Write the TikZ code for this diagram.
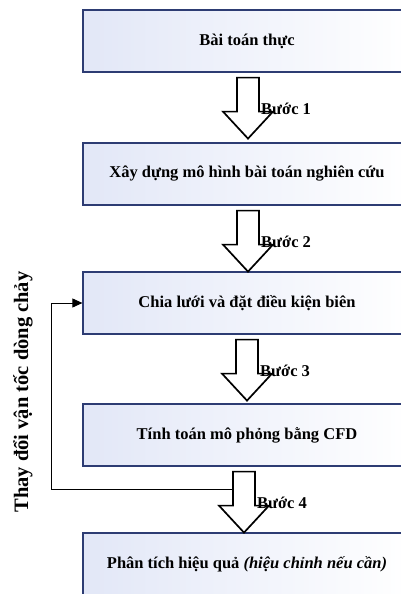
\documentclass[tikz,border=0pt]{standalone}
\usepackage{fontspec}
\setmainfont{Liberation Serif}
\usetikzlibrary{arrows.meta,calc}

\definecolor{boxblue}{RGB}{226,231,247}
\definecolor{boxline}{RGB}{45,60,115}

\tikzset{
  stage/.style={draw=boxline, line width=1.2pt, left color=boxblue, right color=white,
    minimum width=328pt, minimum height=62pt, inner sep=0pt,
    font=\bfseries\fontsize{16.5}{19}\selectfont},
  bigarrow/.style={draw=black, fill=white, line width=1.7pt, line join=miter},
  steplabel/.style={anchor=west, inner sep=0pt, font=\bfseries\fontsize{16.5}{19}\selectfont},
  loopline/.style={draw=black, line width=0.9pt, -{Triangle[length=10pt,width=9pt]}}
}

\begin{document}
\begin{tikzpicture}
  [
    x=1pt, y=-1pt
  ]
  \useasboundingbox (0,0) rectangle (401,594);
  % the five stages
  \node [stage] (b1) at (247, 41) {Bài toán thực};
  \node [stage] (b2) at (247, 174) {Xây dựng mô hình bài toán nghiên cứu};
  \node [stage] (b3) at (247, 303) {Chia lưới và đặt điều kiện biên};
  \node [stage] (b4) at (247, 435) {Tính toán mô phỏng bằng CFD};
  \node [stage] (b5) at (247, 564) {Phân tích hiệu quả \textit{(hiệu chỉnh nếu cần)}};
  % block arrows between stages
  \foreach \i/\dx in {1/1, 2/1, 3/0, 4/-3}{
    \coordinate (a\i) at ($(b\i.south)+(\dx,5)$);
    \draw [bigarrow] (a\i) ++(-11,0) -- ++(0,34) -- ++(-14,0) -- ++(25,27)
      -- ++(25,-27) -- ++(-14,0) -- ++(0,-34) -- cycle;
    \node [steplabel] (s\i) at ($(a\i)+(13,31)$) {Bước \i};
  }
  % loop back
  \coordinate (fb) at ($(a4)+(-11,18)$);
  \draw [loopline] (fb) -| ($(b3.west)+(-31,0)$) -- (b3.west);
  \node [rotate=90, font=\bfseries\fontsize{20.5}{24}\selectfont] (chg) at (23, 392) {Thay đổi vận tốc dòng chảy};

\end{tikzpicture}
\end{document}
